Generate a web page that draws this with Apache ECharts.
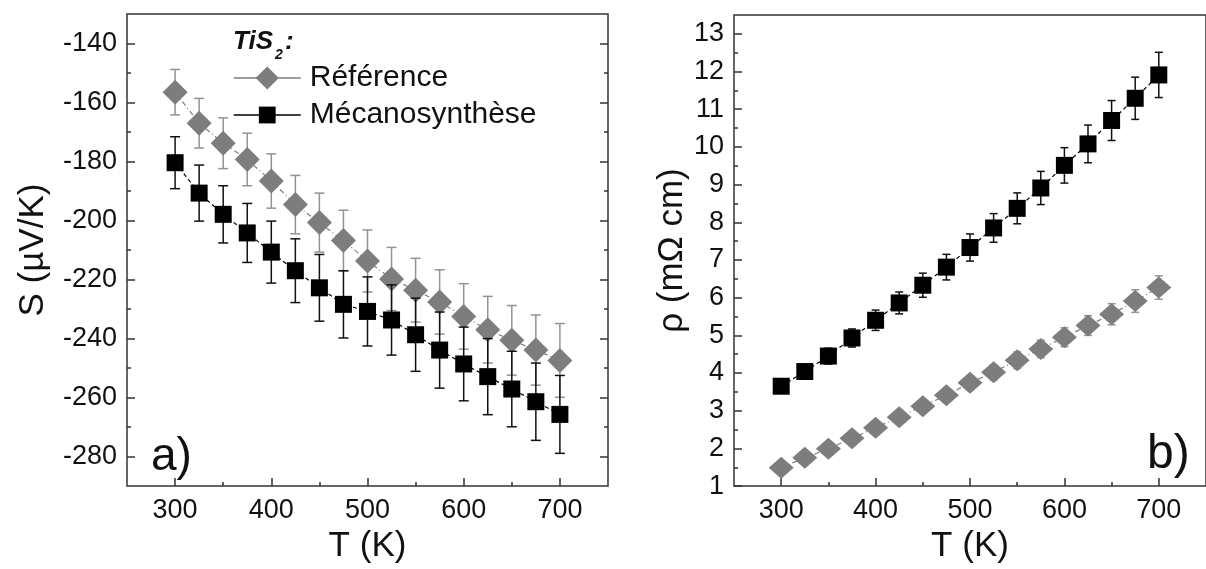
<!DOCTYPE html>
<html><head><meta charset="utf-8">
<script src="https://cdn.jsdelivr.net/npm/echarts@6/dist/echarts.min.js"></script>
<style>html,body{margin:0;padding:0;background:#fff}#c{width:1206px;height:569px}</style>
</head><body><div id="c"></div>
<script>
// ---- data ----
const T = [300,325,350,375,400,425,450,475,500,525,550,575,600,625,650,675,700];
const S_ref     = [-156.5,-167,-173.8,-179.3,-186.6,-194.6,-200.7,-206.8,-213.7,-219.8,-223.6,-227.6,-232.5,-237,-240.6,-243.9,-247.4];
const S_ref_err = [7.7,8.4,8.6,8.9,9.2,9.9,10,10.3,10.5,10.7,10.8,10.9,11.1,11.3,11.8,11.9,12.5];
const S_mec     = [-180.4,-190.7,-197.9,-204.2,-210.7,-217,-222.8,-228.4,-230.8,-233.7,-238.7,-243.9,-248.6,-252.9,-257.1,-261.4,-265.7];
const S_mec_err = [8.8,9.5,9.7,10,10.5,10.8,11.3,11.4,11.7,11.9,12.4,12.9,12.5,12.9,12.8,13.1,13.2];
const rho_ref     = [1.49,1.75,1.99,2.27,2.55,2.83,3.12,3.41,3.74,4.02,4.34,4.64,4.95,5.26,5.56,5.91,6.27];
const rho_ref_err = [0.07,0.09,0.1,0.11,0.13,0.14,0.16,0.17,0.19,0.2,0.22,0.23,0.25,0.26,0.28,0.3,0.31];
const rho_mec     = [3.65,4.04,4.45,4.93,5.40,5.86,6.33,6.81,7.33,7.85,8.37,8.91,9.51,10.08,10.70,11.29,11.91];
const rho_mec_err = [0.15,0.18,0.21,0.24,0.27,0.29,0.32,0.34,0.36,0.38,0.41,0.44,0.47,0.50,0.53,0.56,0.60];

const xTickLabels   = [300,400,500,600,700];
const xMinorTicks   = [350,450,550,650];
const sTickLabels   = [-280,-260,-240,-220,-200,-180,-160,-140];
const sMinorTicks   = [-270,-250,-230,-210,-190,-170,-150];
const rhoTickLabels = [1,2,3,4,5,6,7,8,9,10,11,12,13];
const rhoMinorTicks = [1.5,2.5,3.5,4.5,5.5,6.5,7.5,8.5,9.5,10.5,11.5,12.5];

// ---- styling ----
const FONT = '"Liberation Sans", Arial, sans-serif';
const TXT = '#111';
const AX = '#333';
const GRAY = '#7d7d7d';
const GRAY_ERR = '#939393';

const pairs = (xs, ys) => xs.map((x, i) => [x, ys[i]]);
const errData = (xs, ys, es) => xs.map((x, i) => [x, ys[i] - es[i], ys[i] + es[i]]);

function errSeries(xi, yi, data, color, cap, z) {
  return {
    type: 'custom', xAxisIndex: xi, yAxisIndex: yi, data: data, silent: true, z: z,
    encode: { x: 0, y: [1, 2] },
    renderItem: function (params, api) {
      const x = api.value(0), lo = api.value(1), hi = api.value(2);
      const p1 = api.coord([x, hi]), p2 = api.coord([x, lo]);
      const st = { stroke: color, lineWidth: 1.5 };
      return { type: 'group', children: [
        { type: 'line', shape: { x1: p1[0], y1: p1[1], x2: p2[0], y2: p2[1] }, style: st },
        { type: 'line', shape: { x1: p1[0] - cap, y1: p1[1], x2: p1[0] + cap, y2: p1[1] }, style: st },
        { type: 'line', shape: { x1: p2[0] - cap, y1: p2[1], x2: p2[0] + cap, y2: p2[1] }, style: st }
      ]};
    }
  };
}

const tickLine = { color: AX, width: 1.5 };
const labelStyle = { fontSize: 27, color: TXT, fontFamily: FONT };
const nameStyle = { fontSize: 35, color: TXT, fontFamily: FONT };

function xPair(g) {
  return [
    { type: 'value', gridIndex: g, min: 250, max: 750, position: 'bottom',
      axisLine: { show: false }, splitLine: { show: false },
      axisTick: { inside: true, length: 8, lineStyle: tickLine, customValues: xTickLabels },
      axisLabel: Object.assign({ customValues: xTickLabels, margin: 11 }, labelStyle),
      name: 'T (K)', nameLocation: 'middle', nameGap: 37, nameTextStyle: nameStyle },
    { type: 'value', gridIndex: g, min: 250, max: 750, position: 'bottom',
      axisLine: { show: false }, splitLine: { show: false }, axisLabel: { show: false },
      axisTick: { inside: true, length: 4, lineStyle: tickLine, customValues: xMinorTicks } }
  ];
}

function yAx(g, min, max, pos, ticks, len, labels, name, gap) {
  const a = { type: 'value', gridIndex: g, min: min, max: max, position: pos,
    axisLine: { show: false }, splitLine: { show: false },
    axisTick: { inside: true, length: len, lineStyle: tickLine, customValues: ticks },
    axisLabel: labels ? Object.assign({ customValues: labels, margin: 10 }, labelStyle) : { show: false } };
  if (name) { a.name = name; a.nameLocation = 'middle'; a.nameGap = gap; a.nameTextStyle = nameStyle; }
  return a;
}

const option = {
  animation: false,
  backgroundColor: '#fff',
  grid: [
    { left: 127, top: 14, width: 481, height: 482, show: true, borderColor: AX, borderWidth: 1.5, containLabel: false },
    { left: 734, top: 15, width: 478, height: 482, show: true, borderColor: AX, borderWidth: 1.5, containLabel: false }
  ],
  xAxis: [].concat(xPair(0), xPair(1)),
  yAxis: [
    yAx(0, -290, -130, 'left', sTickLabels, 8, sTickLabels, 'S (µV/K)', 76),
    yAx(0, -290, -130, 'left', sMinorTicks, 4, null),
    yAx(0, -290, -130, 'right', sTickLabels, 8, null),
    yAx(0, -290, -130, 'right', sMinorTicks, 4, null),
    yAx(1, 1, 13.5, 'left', rhoTickLabels, 8, rhoTickLabels, 'ρ (mΩ cm)', 37),
    yAx(1, 1, 13.5, 'left', rhoMinorTicks, 4, null)
  ],
  legend: [
    { data: ['Référence'], left: 233, top: 63, orient: 'vertical', itemWidth: 67, itemHeight: 29,
      selectedMode: false, padding: 0,
      textStyle: { fontSize: 30, lineHeight: 30, color: TXT, fontFamily: FONT, padding: [0, 0, 0, 4] },
      lineStyle: { type: 'solid', width: 1.5 } },
    { data: ['Mécanosynthèse'], left: 233, top: 100, orient: 'vertical', itemWidth: 67, itemHeight: 21,
      selectedMode: false, padding: 0,
      textStyle: { fontSize: 30, lineHeight: 30, color: TXT, fontFamily: FONT, padding: [0, 0, 0, 4] },
      lineStyle: { type: 'solid', width: 1.5 } }
  ],
  graphic: [
    { type: 'text', left: 233, top: 29, style: { text: 'TiS', font: 'italic bold 26px ' + FONT, fill: TXT } },
    { type: 'text', left: 275, top: 48, style: { text: '2', font: 'italic bold 14px ' + FONT, fill: TXT } },
    { type: 'text', left: 285, top: 29, style: { text: ':', font: 'italic bold 26px ' + FONT, fill: TXT } },
    { type: 'text', left: 151, top: 434, style: { text: 'a)', font: '46px ' + FONT, fill: TXT } },
    { type: 'text', left: 1147, top: 431, style: { text: 'b)', font: '48px ' + FONT, fill: TXT } }
  ],
  series: [
    errSeries(0, 0, errData(T, S_ref, S_ref_err), GRAY_ERR, 5, 2),
    { type: 'line', name: 'Référence', xAxisIndex: 0, yAxisIndex: 0, data: pairs(T, S_ref),
      symbol: 'diamond', symbolSize: 25, z: 3,
      itemStyle: { color: GRAY }, lineStyle: { color: GRAY, width: 1.2, type: [5, 3, 1, 3] } },
    errSeries(0, 0, errData(T, S_mec, S_mec_err), '#111', 5, 4),
    { type: 'line', name: 'Mécanosynthèse', xAxisIndex: 0, yAxisIndex: 0, data: pairs(T, S_mec),
      symbol: 'rect', symbolSize: 17, z: 5,
      itemStyle: { color: '#000' }, lineStyle: { color: '#000', width: 1.2, type: [4, 3] } },

    errSeries(2, 4, errData(T, rho_ref, rho_ref_err), GRAY_ERR, 4, 2),
    { type: 'line', name: 'Référence', xAxisIndex: 2, yAxisIndex: 4, data: pairs(T, rho_ref),
      symbol: 'diamond', symbolSize: [25, 22], z: 3,
      itemStyle: { color: GRAY }, lineStyle: { color: GRAY, width: 1.2, type: [5, 3, 1, 3] } },
    errSeries(2, 4, errData(T, rho_mec, rho_mec_err), '#111', 4, 4),
    { type: 'line', name: 'Mécanosynthèse', xAxisIndex: 2, yAxisIndex: 4, data: pairs(T, rho_mec),
      symbol: 'rect', symbolSize: 17, z: 5,
      itemStyle: { color: '#000' }, lineStyle: { color: '#000', width: 1.2, type: [4, 3] } }
  ]
};

const chart = echarts.init(document.getElementById('c'));
chart.setOption(option);
</script>
</body></html>
